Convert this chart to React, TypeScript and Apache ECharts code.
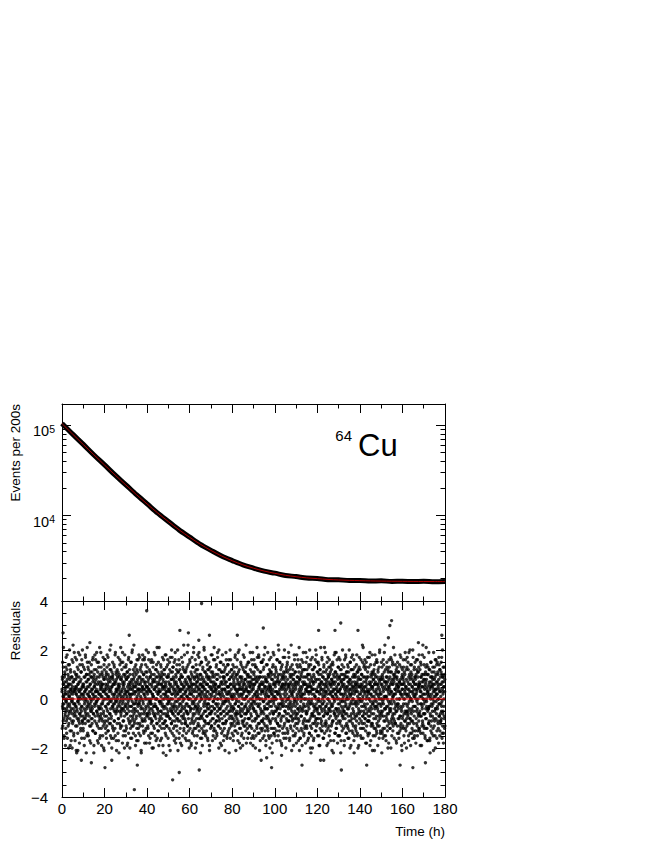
import React, { useEffect, useRef } from "react";
import * as echarts from "echarts";

// ---- Data ----
const timeTickLabels = [0, 20, 40, 60, 80, 100, 120, 140, 160, 180];

// Fit curve of counts (events per 200 s) vs time (h)
const fitTimes = [0, 5, 10, 15, 20, 25, 30, 35, 40, 45, 50, 55, 60, 65, 70, 75, 80, 85, 90, 95, 100, 105, 110, 115, 120, 125, 130, 135, 140, 145, 150, 155, 160, 165, 170, 175, 180];
const fitCounts = [104850, 80250, 61530, 47280, 36430, 28170, 21890, 17100, 13460, 10690, 8580, 6970, 5750, 4820, 4110, 3570, 3160, 2850, 2610, 2430, 2290, 2180, 2100, 2040, 2000, 1960, 1935, 1915, 1900, 1888, 1879, 1872, 1867, 1863, 1860, 1857, 1855];
// Measured counts (dense band of data points)
const measuredCounts = [105300, 80100, 61700, 47100, 36500, 28100, 21950, 17050, 13500, 10650, 8600, 6950, 5770, 4800, 4120, 3560, 3170, 2840, 2620, 2420, 2300, 2170, 2110, 2030, 2010, 1950, 1945, 1905, 1910, 1880, 1890, 1865, 1875, 1855, 1868, 1850, 1860];

const logMajorTicks = [10000, 100000];
const logMinorTicks = [2000, 3000, 4000, 5000, 6000, 7000, 8000, 9000, 20000, 30000, 40000, 50000, 60000, 70000, 80000, 90000];

// Residuals: two interleaved runs, each sampled every 0.1 h
const residualStep = 0.1;
const residualOffsetB = 0.05;
const residualsA = [
0.3,-1.2,0.8,1.5,-0.4,0.1,-0.9,2.1,0.6,-0.2,-1.6,0.9,0.0,1.1,-0.7,0.4,-1.9,0.2,1.3,-0.5,
-0.1,0.7,-1.4,0.5,1.8,-0.8,0.2,-0.3,1.0,-1.1,0.6,-2.0,0.9,0.1,-0.6,1.4,-0.2,0.8,-1.3,0.3,
1.2,-0.5,0.0,-1.7,0.4,0.9,-0.9,1.6,-0.1,0.5,-1.0,0.2,2.2,-0.4,0.7,-1.5,0.3,-0.7,1.1,-0.2,
-0.6,0.4,1.7,-0.3,-1.1,0.8,0.2,-2.1,0.5,1.0,-0.4,-0.8,1.3,0.1,-1.4,0.6,-0.1,1.9,-0.9,0.0,
0.9,-0.2,-1.8,0.3,1.4,-0.6,0.7,0.0,-1.2,1.1,0.4,-0.5,-0.3,1.6,-0.9,0.2,2.0,-1.0,0.5,-0.7,
-1.3,0.6,0.1,-0.4,0.9,-1.6,1.2,-0.1,0.3,-0.8,1.8,0.0,-0.6,0.7,-2.2,0.4,1.0,-0.3,0.2,1.5,
0.5,-0.9,1.3,-0.2,-1.5,0.8,0.1,1.0,-0.7,0.3,-1.1,2.3,-0.4,0.6,0.0,-1.8,0.9,-0.1,1.4,-0.5,
-0.3,1.1,-0.8,0.4,0.2,-1.3,1.7,-0.6,0.0,0.9,-1.9,0.5,1.2,-0.2,-0.9,0.7,-1.4,0.3,1.6,0.1,
0.8,-0.1,-1.0,1.9,-0.5,0.3,0.6,-1.7,1.1,-0.3,0.0,-0.7,1.5,0.2,-1.2,0.9,-0.4,2.1,-0.8,0.4,
-1.5,0.2,0.7,-0.6,1.3,-0.2,-1.9,0.5,0.1,1.0,-0.9,0.6,-0.1,1.7,-1.1,0.3,-0.5,0.8,-2.1,1.2,
0.4,-0.7,1.6,0.0,-1.2,0.9,-0.3,0.5,1.1,-1.6,0.2,-0.4,1.8,-0.9,0.6,0.1,-1.3,1.0,-0.2,0.7,
-0.8,1.4,0.3,-1.0,0.0,2.0,-0.6,0.8,-1.5,0.4,1.2,-0.1,-0.7,0.9,-2.0,0.5,0.2,-1.1,1.5,-0.3,
1.0,-0.4,-1.6,0.6,0.2,-0.9,1.3,-0.2,0.7,-1.2,0.0,1.9,-0.5,0.3,1.1,-1.7,0.8,-0.1,0.4,-1.0,
0.1,0.9,-0.3,-1.4,1.7,0.5,-0.8,0.2,-2.2,1.0,0.6,-0.5,1.4,-0.1,0.3,-1.1,2.1,-0.6,0.0,0.8,
-0.5,1.2,0.4,-0.2,-1.8,0.7,1.5,-0.9,0.1,-0.4,1.0,-1.3,0.6,0.2,-0.7,1.8,-0.3,0.9,-1.5,0.3,
1.3,-1.1,0.0,0.8,-0.6,0.3,-1.9,1.1,0.5,-0.2,0.9,-0.8,1.6,-1.4,0.4,0.0,-0.5,1.2,0.2,-2.0,
0.6,0.1,-1.2,1.5,-0.3,-0.9,0.7,0.2,-1.6,1.9,-0.1,0.4,-0.7,1.0,-1.1,0.5,0.8,-0.4,2.2,-0.2,
-0.9,0.5,1.1,-0.5,0.3,-1.5,0.0,1.4,-0.8,0.6,-0.2,-1.7,1.2,0.1,0.7,-1.0,0.4,-0.3,1.6,-1.2,
0.2,-1.4,0.9,0.4,-0.1,1.7,-0.7,-1.1,0.6,0.0,1.3,-0.4,-2.1,0.8,-0.6,1.1,0.3,-0.9,0.5,1.8,
-0.4,0.8,-0.2,-1.3,1.0,0.2,-0.6,1.6,-1.8,0.4,0.1,-0.9,0.7,1.4,-0.3,-1.2,2.0,0.5,-0.7,0.0,
1.1,-0.6,0.3,-1.1,0.7,-0.2,1.9,-1.5,0.4,0.0,-0.8,1.2,0.6,-0.4,-1.6,0.9,-0.1,0.3,1.5,-1.0,
-0.2,1.6,-0.9,0.5,0.2,-1.4,0.8,-0.5,1.3,-2.0,0.1,0.7,-0.3,1.0,-1.2,0.4,-0.7,1.8,0.0,-0.6,
0.7,-0.3,-1.7,1.2,0.0,0.5,-1.0,2.1,-0.4,0.9,-1.3,0.2,-0.6,1.5,0.3,-1.9,0.6,-0.1,1.0,-0.8,
-1.1,0.3,0.9,-0.7,1.4,-0.1,-0.5,0.6,-1.6,1.1,0.4,-0.2,1.7,-1.0,0.0,0.8,-2.2,0.5,-0.3,1.2,
0.5,-1.2,1.0,0.2,-0.6,1.8,-0.9,0.1,0.7,-1.5,0.3,1.3,-0.4,-1.1,0.9,0.0,-0.7,1.6,-0.2,0.4,
-0.7,0.9,-0.1,-1.9,0.6,0.3,1.2,-0.8,0.0,1.7,-1.3,0.5,-0.2,0.8,-1.0,2.0,-0.5,0.2,-1.4,1.1,
0.0,1.3,-0.6,0.4,-1.2,0.8,-0.3,1.5,-1.7,0.2,0.6,-0.9,1.9,-0.1,-0.5,1.0,-1.6,0.7,0.3,-1.1,
1.4,-0.4,0.2,-0.8,1.1,-2.1,0.5,0.0,-0.6,1.6,0.3,-1.4,0.8,-0.2,1.2,-0.9,0.4,-1.8,0.9,0.1,
-0.5,0.6,1.7,-1.0,0.1,-0.3,0.9,-1.5,1.3,0.4,-0.7,0.0,2.2,-1.2,0.5,-0.4,1.1,-0.8,0.2,-1.6,
0.8,-1.0,0.3,1.2,-0.5,-1.7,0.7,0.1,-0.2,1.9,-1.1,0.6,-0.6,1.4,0.0,-1.3,0.9,0.4,-2.0,0.5,
-0.3,1.5,-1.2,0.0,0.8,-0.4,1.1,-1.9,0.6,0.2,-0.8,1.7,-0.1,-1.4,0.9,0.3,-0.6,1.3,-1.0,2.1,
0.6,-0.2,-1.5,0.9,0.3,-0.9,1.6,-0.3,0.0,-1.2,1.2,0.5,-1.8,0.7,-0.5,1.0,0.1,-1.1,1.8,-0.4,
-1.0,0.4,0.8,-0.6,1.9,-1.3,0.2,-0.1,1.4,-0.8,0.6,-2.2,1.0,0.3,-0.7,0.0,1.5,-1.6,0.5,0.9,
0.2,-0.8,1.3,-1.4,0.5,0.7,-0.3,-1.1,2.0,0.1,-0.5,1.1,-0.9,0.4,1.7,-1.5,0.0,0.6,-0.2,-1.3,
1.0,0.3,-0.7,0.6,-1.6,1.2,-0.2,0.8,-1.0,0.0,1.5,-0.4,0.9,-1.9,0.2,-0.6,1.3,0.5,-1.2,0.7,
-0.6,1.8,0.1,-1.1,0.4,-0.5,0.9,-1.7,1.1,0.3,-0.1,-0.8,1.6,-1.3,0.7,2.1,-0.4,0.0,-1.0,0.5,
0.4,-1.3,0.6,1.0,-0.2,-0.9,1.4,0.2,-1.5,0.8,-0.3,1.9,-0.7,0.0,-1.1,0.5,1.2,-2.0,0.3,-0.4,
-0.9,0.2,1.2,-0.4,-1.8,0.6,0.0,1.5,-0.6,1.1,-1.4,0.3,0.7,-0.2,1.8,-1.0,0.4,-0.5,0.9,-1.7,
0.1,1.1,-0.5,-1.2,0.9,0.4,-2.1,0.7,-0.1,1.3,0.0,-0.9,1.6,-0.6,0.2,-1.5,1.0,0.5,-0.3,1.4,
-1.4,0.5,0.3,-0.1,1.6,-0.8,0.8,-1.2,0.2,-0.5,2.0,-1.6,0.6,0.9,-0.3,0.1,-1.1,1.2,-0.7,0.0,
0.9,-0.5,-1.0,1.4,0.0,-1.7,0.5,0.8,-0.4,1.1,-0.9,0.2,-1.3,1.7,0.4,-0.2,0.6,-2.1,1.0,-0.6,
-0.1,1.3,-0.8,0.3,1.0,-0.6,-1.4,0.7,1.9,-0.3,0.4,-1.0,0.1,1.2,-1.8,0.6,-0.5,0.9,0.2,-1.2,
1.5,-0.7,0.4,-1.5,0.2,0.8,-0.2,-0.9,1.3,-1.9,0.5,0.0,1.8,-0.4,0.7,-1.1,0.3,-0.6,1.1,0.6,
-0.8,0.0,1.1,-0.3,-1.3,2.2,-0.6,0.4,0.1,-1.0,1.4,-0.5,0.7,-1.6,0.3,1.0,-0.1,-0.8,1.5,-1.4,
0.3,-1.1,0.7,0.5,-0.4,1.2,-1.8,0.9,-0.2,0.6,-0.7,1.6,-1.2,0.0,0.8,-0.3,1.9,-1.5,0.1,0.4,
-0.4,0.8,-1.6,1.1,0.6,-0.1,-0.9,1.4,0.2,-2.0,0.9,-0.5,0.3,1.3,-0.8,0.0,-1.2,0.7,1.7,-0.2,
1.2,-0.3,0.2,-1.0,1.8,-0.7,0.5,-1.4,0.0,0.9,-0.2,1.1,-1.7,0.4,0.6,-0.6,1.5,-0.9,0.3,-1.3,
0.0,0.6,-1.2,0.9,-0.5,0.3,1.6,-0.8,-0.1,1.3,-1.5,0.7,0.2,-0.4,2.1,-1.1,0.5,0.1,-1.9,0.8,
-0.7,1.4,0.4,-0.2,-1.1,0.7,-0.4,1.9,-1.3,0.1,0.5,-0.8,1.0,-0.1,-1.6,1.2,0.3,-0.6,0.9,-1.0,
0.5,-0.9,1.7,-1.5,0.2,-0.3,1.0,0.0,-2.2,0.8,0.4,-1.2,1.4,-0.6,0.1,-0.2,1.8,-1.4,0.6,0.3,
-1.2,0.1,0.6,1.3,-0.8,0.0,-0.5,1.1,0.7,-1.7,0.3,1.6,-0.4,-1.0,0.9,0.2,-1.5,1.0,-0.3,2.0,
0.7,-0.6,-1.3,0.4,1.5,-1.1,0.2,-0.2,1.2,-0.9,0.0,-1.8,0.8,0.5,-0.7,1.4,-0.1,0.6,-1.4,0.9,
-0.3,1.0,0.2,-1.6,0.8,0.5,-1.0,1.7,-0.5,0.1,1.1,-0.3,-2.0,0.6,1.3,-0.8,0.4,-1.2,0.0,1.5,
1.1,-1.4,0.5,0.0,-0.6,1.9,-0.2,-0.9,0.6,1.2,-1.6,0.3,0.9,-0.1,-1.1,0.7,-0.4,2.2,-0.7,0.2,
-0.5,0.3,1.4,-0.9,0.1,-1.3,0.8,0.4,-1.9,1.0,-0.2,0.6,-0.8,1.6,0.0,-1.5,1.1,-0.3,0.5,-1.0,
0.6,-0.1,-0.8,1.8,-1.2,0.2,0.9,-0.6,1.3,-0.4,0.0,-1.7,0.7,1.1,-0.9,0.4,-2.1,0.8,1.4,-0.3,
-1.6,0.9,0.3,-0.4,1.0,-0.7,1.6,0.1,-1.3,0.5,-0.5,1.2,0.2,-1.0,1.9,-0.2,0.6,-1.4,0.0,0.7,
0.2,1.2,-1.1,0.6,-0.3,-1.8,0.4,1.5,-0.6,0.0,0.9,-1.2,1.7,-0.5,0.3,-0.9,1.0,0.5,-1.6,-0.1,
1.3,-0.4,0.0,-1.4,2.0,0.3,-0.8,0.7,-1.1,1.4,-0.2,0.5,-1.5,0.9,-0.6,0.2,1.2,-2.0,0.4,-0.7,
-0.2,0.7,-1.7,1.0,0.4,-0.5,1.3,-1.0,0.1,-0.3,1.6,-0.9,0.8,0.0,-1.3,1.8,-0.4,0.3,-0.8,1.1,
0.8,-1.5,0.3,-0.1,1.5,-0.8,0.0,1.0,-1.9,0.6,0.2,-0.6,1.2,-1.2,0.5,-0.3,2.1,-1.0,0.7,-0.4,
-0.9,0.4,1.6,-1.3,0.0,0.9,-0.2,-1.6,1.1,0.3,-0.7,1.4,-0.1,0.6,-1.4,0.8,0.1,-0.5,1.9,-1.1,
0.3,-0.3,-1.0,0.7,1.2,-1.9,0.5,0.2,-0.6,1.7,-1.2,0.0,0.9,-0.4,1.3,-0.8,-1.5,0.6,0.2,1.0,
-1.3,1.1,0.6,-0.5,-0.2,1.4,-1.1,0.8,0.3,-2.1,0.7,-0.3,1.5,0.1,-0.9,0.4,1.0,-1.7,0.0,-0.6,
0.6,0.0,-1.4,1.9,-0.7,0.2,1.1,-0.4,-1.2,0.9,0.4,-1.0,0.1,1.6,-0.5,-1.8,0.8,0.3,-0.2,1.3,
-0.4,1.7,-0.6,0.0,0.9,-1.5,0.4,1.2,-0.9,0.2,-2.2,0.7,1.0,-0.3,0.5,-1.1,1.4,-0.7,0.6,-0.1,
1.0,-0.8,0.2,-1.2,0.5,0.8,-0.5,-1.7,1.6,-0.1,0.9,-0.6,0.3,1.8,-1.4,0.0,-0.3,1.1,-1.0,0.4,
0.1,0.5,-1.1,0.9,-1.6,1.3,0.0,-0.4,0.7,-0.9,2.0,-1.3,0.4,-0.2,0.8,1.5,-0.7,0.2,-1.9,0.6,
-0.6,1.2,0.7,-0.2,0.3,-1.0,1.8,-1.4,0.0,0.5,-0.5,1.0,-1.7,0.9,0.2,-0.8,1.3,-0.1,0.6,-1.2,
0.9,-0.2,-1.3,0.4,1.4,-0.7,-0.1,1.1,-1.5,0.6,0.3,-2.0,0.8,1.2,-0.4,0.0,-1.0,1.7,-0.6,0.5,
-0.1,0.8,0.0,-1.5,0.6,1.6,-0.9,0.3,-0.3,1.0,-1.2,0.5,2.2,-0.7,0.1,-1.6,0.9,0.4,-0.5,1.3,
1.4,-1.0,0.5,0.2,-0.8,-0.3,1.2,-1.8,0.7,0.0,1.5,-0.6,-1.1,0.9,0.3,-0.2,1.7,-1.4,0.2,-0.9,
-0.7,0.3,1.3,-0.9,0.0,-1.4,0.6,1.9,-0.5,0.4,-0.1,-1.7,1.0,0.2,-1.0,0.7,-0.4,1.1,0.5,-2.1,
0.5,-1.1,-0.2,1.1,0.8,-0.6,0.1,-1.2,1.4,-0.3,0.6,1.8,-1.5,0.0,0.9,-0.8,0.3,-0.1,-1.3,1.6,
-1.0,0.6,0.9,-0.4,-1.9,1.2,-0.2,0.5,0.1,-0.7,1.3,-1.1,0.7,2.0,-0.6,0.2,-1.4,0.8,0.0,-0.3,
0.2,1.5,-0.7,0.0,0.6,-1.3,1.0,-0.5,-1.6,0.8,0.4,-0.2,1.4,-0.9,0.1,1.9,-1.2,0.5,-0.4,0.7,
1.2,-0.4,0.4,-1.7,0.9,0.1,-0.8,1.3,0.0,-1.1,0.7,-0.3,-2.0,1.1,0.5,-0.6,0.2,1.6,-1.0,-0.2,
-0.5,0.9,-1.2,0.6,-0.1,1.7,-0.4,-0.9,1.1,0.3,-1.5,0.8,0.0,-0.7,1.5,-1.3,0.6,0.1,2.1,-0.8,
0.7,-1.6,0.2,1.0,-0.6,0.4,1.4,-1.0,-0.2,0.9,-0.5,1.2,-1.8,0.3,0.0,0.8,-1.1,1.5,-0.3,0.4,
-0.2,0.5,1.1,-1.4,0.3,-0.8,0.7,0.0,-1.3,1.8,-0.7,0.2,0.6,-1.0,1.3,-0.4,-1.9,0.9,0.1,1.0,
0.4,-0.7,-1.1,0.8,1.6,-0.2,0.0,-1.5,0.6,1.1,-0.9,0.3,-0.5,1.9,-1.2,0.5,0.2,-0.6,1.2,-2.0,
-0.8,1.3,0.1,-0.3,-1.0,0.7,1.5,-0.6,0.2,-1.7,0.9,0.4,-0.1,1.0,-0.8,2.0,-1.4,0.6,0.0,-0.5,
1.1,0.0,-0.9,1.4,-0.4,-1.2,0.5,0.8,-1.6,0.3,1.7,-0.3,0.7,-1.0,0.1,-0.7,1.3,-1.5,0.9,0.2,
-0.3,0.9,0.6,-1.8,1.0,0.2,-0.5,1.2,-0.1,-1.1,0.4,1.6,-1.3,0.0,-0.6,1.1,0.5,-0.9,1.8,-1.2,
0.6,-1.3,0.4,0.1,-0.7,1.5,-1.4,0.3,0.9,-0.2,-1.9,0.7,1.0,-0.4,0.5,-1.0,2.2,0.0,-0.6,0.8,
-1.1,0.2,1.7,-0.6,0.4,-0.1,-1.5,1.0,0.6,-0.8,1.3,-1.2,0.0,0.8,-0.3,1.4,-1.7,0.5,0.2,-0.4,
0.3,1.0,-0.4,-1.0,1.9,-0.9,0.2,-0.3,1.2,-1.6,0.5,0.1,-0.7,1.5,-1.1,0.7,-0.2,0.9,-1.4,0.6,
0.9,-0.5,0.0,1.3,-1.2,0.6,-2.1,0.4,-0.1,1.1,0.8,-0.9,0.3,-1.5,1.6,-0.4,0.1,-0.8,1.0,0.2,
-0.6,1.4,-1.3,0.2,0.7,-0.4,1.1,-1.0,0.5,0.0,-1.8,1.7,-0.2,0.4,-0.7,1.2,-1.3,0.6,0.3,-0.9,
0.1,-0.2,1.5,-0.8,-0.3,1.0,-1.6,0.7,2.0,-1.1,0.3,-0.5,0.9,-1.4,0.5,0.0,1.3,-0.7,-1.2,0.8
];
const residualsB = [
0.4,0.9,-0.3,-1.1,-0.2,0.6,1.3,0.1,-0.8,-1.5,-0.4,0.2,0.7,1.0,-0.6,0.3,0.5,-1.2,-0.1,1.7,
-0.9,-0.4,0.0,1.2,0.8,-1.6,-0.7,-0.2,0.5,1.4,0.3,-0.5,-1.0,0.6,0.1,2.0,-0.3,-0.8,-1.9,0.4,
1.1,0.2,0.6,-0.4,-1.3,-0.1,0.9,-2.0,-0.6,0.3,0.0,1.5,0.7,-0.9,-0.2,-1.4,0.8,1.9,0.4,-0.5,
-0.2,-1.7,0.3,0.5,1.0,-0.7,-0.3,0.2,1.6,0.9,-1.1,-0.5,0.4,-0.1,-2.1,0.6,1.2,0.0,-0.8,0.3,
0.7,-0.6,-1.0,1.8,0.4,0.1,-0.4,-1.3,-0.7,0.8,1.1,0.2,-1.6,-0.3,0.5,1.4,-0.9,0.0,0.6,-1.2,
0.2,1.3,0.5,-0.8,-1.9,-0.2,0.3,0.9,-0.5,-1.0,1.7,0.4,0.0,-0.7,1.0,-0.4,-1.5,0.7,2.1,-0.1,
-1.4,-0.6,0.8,0.2,1.2,-0.3,-0.9,0.5,1.5,0.1,-1.7,-0.2,0.6,1.1,-0.5,-1.1,0.3,-0.8,0.9,0.4,
0.0,-1.0,-0.4,1.6,0.7,-1.3,0.2,0.8,-0.6,-2.2,0.1,1.0,0.5,-0.3,1.8,0.6,-0.7,-1.4,0.3,-0.2,
1.2,0.4,-0.5,-0.1,0.9,1.5,-1.1,-0.6,0.3,0.0,-1.8,0.7,1.3,-0.4,-0.9,0.2,0.6,-1.6,1.0,-0.3,
-0.7,0.5,1.9,0.1,-1.2,-0.4,0.4,-0.8,1.1,0.6,-0.2,-1.5,0.9,0.3,-0.6,-2.0,0.0,1.4,0.8,-1.0,
0.3,1.6,-0.9,-0.3,0.6,0.2,-1.4,1.0,0.4,-0.7,-1.1,1.3,0.0,0.8,-0.5,-0.2,1.7,-1.3,0.5,0.1,
-1.8,0.4,0.9,-0.6,-0.1,1.2,0.7,-1.0,-0.4,2.2,0.3,-0.8,-1.6,0.5,1.1,0.0,-0.3,0.9,-1.2,0.6,
0.8,-0.2,-1.3,0.1,1.4,-0.5,-0.9,0.6,0.2,1.8,-1.5,-0.1,0.7,-0.6,0.4,1.0,-2.1,-0.4,0.3,1.2,
-0.5,0.0,0.6,1.1,-0.8,-1.7,0.4,-0.2,0.9,0.5,-1.0,1.6,-0.3,0.2,-1.2,0.8,0.1,-0.7,1.5,-0.4,
0.9,-1.1,0.3,-0.4,1.9,0.6,-0.1,-1.5,0.5,-0.9,0.0,1.3,0.7,-2.0,-0.5,0.4,1.0,-0.2,-1.3,0.2,
-0.3,1.4,0.8,-1.2,-0.6,0.1,1.1,-0.4,-1.8,0.3,0.9,-0.1,0.6,1.7,-0.9,-0.3,0.2,-1.0,0.7,1.0,
0.5,-0.7,-1.6,0.4,0.0,1.5,-0.3,0.8,-1.1,-0.5,2.0,0.2,-0.8,0.6,1.2,-1.4,-0.2,0.3,-0.6,0.9,
-1.0,0.2,1.3,0.7,-0.4,-1.9,0.5,-0.1,1.0,0.3,-0.7,-1.2,1.6,0.0,-0.5,0.8,1.1,-1.7,0.4,-0.2,
0.6,1.8,-0.6,-0.2,0.3,-1.0,0.9,1.2,-1.5,0.1,-0.3,0.7,-2.2,0.4,1.4,-0.8,0.0,0.5,-1.1,1.6,
-0.1,-0.9,0.4,1.0,-1.4,0.7,0.2,-0.5,1.7,-0.8,0.6,0.0,-1.3,1.1,-0.4,0.3,-1.8,0.9,0.5,-0.6,
1.3,0.5,0.2,-0.7,-1.2,-0.3,0.8,1.6,0.4,-0.5,-0.1,-1.8,-0.6,0.9,0.3,1.1,-0.2,-1.4,-0.8,0.0,
0.6,1.0,-0.4,-2.0,-0.9,0.2,0.7,0.1,1.5,-0.6,-1.1,-0.3,0.4,1.9,0.8,-0.7,-0.2,-1.5,0.5,1.2,
-0.3,-0.8,0.9,0.3,1.4,0.0,-1.0,-1.6,-0.4,0.6,1.1,0.2,-0.5,-1.3,0.7,0.4,2.1,-0.9,-0.1,0.3,
0.8,-0.2,-1.7,-0.5,0.1,1.3,0.6,0.9,-1.2,-0.8,-0.3,0.5,1.0,-0.6,-1.9,0.2,0.7,1.6,-0.4,-1.0,
0.0,0.4,1.2,-0.9,-0.3,-1.4,0.6,0.2,1.8,0.5,-0.7,-1.1,0.3,0.9,-0.2,-0.6,1.4,0.1,-1.6,-0.5,
1.0,0.7,-0.1,-1.2,0.4,1.5,0.3,-0.8,-2.1,-0.4,0.6,1.1,0.0,-0.5,-1.0,0.8,0.2,1.7,-0.3,-0.9,
-0.6,0.5,1.3,0.9,-0.4,-1.5,-0.2,0.3,0.7,-1.1,-0.7,1.6,0.4,0.1,-1.8,-0.3,0.9,1.2,0.6,-0.8,
-1.3,-0.1,0.5,2.0,0.2,-0.6,-0.9,1.1,0.4,-0.3,-1.6,0.8,1.4,0.0,-0.5,-1.2,0.3,0.7,-0.2,1.0,
0.4,-0.7,-1.9,-0.4,0.9,0.6,1.5,-0.1,-0.8,0.2,1.2,0.5,-1.3,-0.6,0.0,1.8,0.7,-1.0,-0.3,0.3,
-0.9,1.1,0.6,-0.2,-1.4,-0.5,0.4,1.3,0.1,-1.1,-0.6,0.9,2.2,-0.3,-0.8,0.5,0.0,-1.7,0.2,0.8,
1.6,0.3,-0.5,-1.0,0.7,0.2,-0.4,-1.8,0.5,1.0,0.4,-0.9,-0.2,1.3,0.6,-1.3,-0.7,0.1,1.9,-0.4,
-0.1,-1.2,0.8,0.4,1.1,-0.6,-2.0,-0.3,0.6,0.0,1.4,0.9,-0.8,-0.4,0.3,-1.5,0.7,1.2,-0.2,0.5,
0.9,-0.3,-0.8,1.7,0.2,-1.1,-0.5,0.4,1.0,0.6,-1.6,0.1,-0.4,0.8,1.5,-0.7,-1.2,0.0,0.6,-1.9,
0.3,1.2,0.5,-0.6,-1.3,0.8,-0.2,2.1,0.4,-0.9,-0.1,-1.4,0.7,1.1,0.2,-0.5,-1.0,1.6,0.9,-0.3,
-0.7,0.1,1.4,0.6,-0.4,-1.7,0.3,0.9,-0.2,-1.0,1.2,0.5,-0.6,-2.1,0.0,0.8,1.3,-0.3,-0.9,0.4,
1.1,-0.5,-1.1,0.2,0.7,1.8,-0.8,-0.3,0.5,1.0,-1.5,-0.1,0.6,0.3,-1.2,0.9,-0.4,0.1,1.6,-0.6,
-1.6,0.6,0.3,-0.2,1.3,0.4,-0.9,-1.4,0.8,0.0,-0.5,1.7,1.0,-0.7,-0.2,0.5,-1.1,2.0,0.2,-0.8,
0.5,-0.4,0.9,1.5,-1.2,-0.6,0.1,0.7,-0.3,-1.9,0.4,1.1,-0.8,0.2,0.6,-1.3,-0.1,0.9,1.4,-1.0,
-0.2,0.8,-1.5,-0.7,0.4,1.2,0.6,-0.1,-1.0,0.3,1.9,-0.4,-0.9,0.7,0.0,-1.6,1.0,0.5,-0.6,0.2,
1.4,-1.3,0.0,0.5,-0.5,-2.2,0.8,1.1,0.3,-0.7,-0.2,0.6,1.6,-1.0,-0.4,0.4,1.2,-0.8,0.1,-1.4,
0.2,0.6,1.0,-0.3,-0.8,-1.5,-0.4,0.7,1.3,0.1,0.5,-1.1,-0.6,-0.2,1.8,0.9,-0.7,-1.3,0.4,0.0,
-0.5,-1.0,0.3,1.6,0.8,0.2,-1.7,-0.9,0.6,1.1,-0.3,-0.1,2.0,0.4,-1.2,-0.6,0.5,0.9,-2.0,-0.4,
0.7,1.4,-0.2,-0.7,0.1,0.9,-1.4,-0.5,0.4,-1.0,0.2,1.2,0.6,-0.9,-1.6,0.3,1.7,0.0,-0.3,0.8,
-1.1,0.4,0.8,1.3,-0.6,-0.2,-1.8,0.5,0.1,1.0,-0.4,-1.2,0.9,0.3,1.5,-0.8,-0.5,0.6,-1.4,0.2,
0.9,-0.8,-0.3,0.5,1.9,0.0,-1.1,-0.6,0.7,0.3,-1.6,1.1,0.4,-0.2,-0.9,1.4,0.6,-1.9,-0.1,0.5,
-0.4,1.0,1.6,-0.5,-1.3,0.2,0.6,-0.8,-0.2,1.3,0.8,-1.5,0.1,0.7,-0.6,-1.1,2.1,0.3,-0.7,0.9,
0.1,-1.4,0.4,0.8,-0.3,1.7,0.5,-1.0,-2.1,0.6,0.0,0.9,-0.4,-1.2,1.1,0.2,-0.5,1.5,0.7,-0.9,
1.5,0.3,-0.9,-1.6,0.6,-0.1,1.2,0.4,-0.6,-1.0,1.8,-0.3,0.5,0.9,-1.3,-0.4,0.0,0.8,-1.7,0.3,
-0.8,0.7,0.2,-0.4,1.4,-1.2,-0.7,0.9,1.0,-0.2,-1.5,0.4,0.1,-0.9,1.6,0.6,-0.3,-2.0,0.5,1.1,
0.4,-0.1,-1.2,1.1,0.3,0.8,-0.5,-1.8,0.2,1.3,-0.8,0.6,1.9,-0.6,-0.1,-1.4,0.7,0.0,1.0,-0.5,
-1.5,0.9,0.5,-0.3,-0.9,1.2,0.3,0.0,-1.3,0.7,1.6,-0.4,-1.0,0.2,0.8,-0.7,2.2,-0.2,-1.1,0.6,
0.3,-0.6,1.5,0.7,-1.7,-0.4,0.1,1.0,-0.2,-0.8,0.5,1.3,-1.9,0.4,-0.3,0.9,-1.2,0.6,0.0,1.7,
-0.2,1.1,-0.7,-1.1,0.4,2.0,0.6,-0.5,-1.4,0.3,0.9,-0.1,0.7,-1.6,-0.6,1.2,0.2,-0.9,1.4,-0.3,
0.8,-1.3,0.0,0.6,-0.4,-0.9,1.7,0.5,0.1,-1.7,-0.3,1.0,0.4,-0.7,1.3,-1.2,-0.2,0.9,0.6,-2.1,
1.0,0.2,-0.8,-0.3,1.2,0.5,-1.5,-0.6,0.8,0.3,-0.1,1.8,-1.1,0.0,-0.5,0.7,1.1,-1.4,0.4,-0.7,
-0.6,-1.8,0.7,1.4,0.1,-0.2,0.9,-1.0,-0.4,1.6,0.6,-0.8,0.3,-1.3,2.1,-0.5,0.2,0.8,-1.6,0.1,
0.5,1.3,-0.1,-0.7,-1.2,0.4,0.0,1.1,-1.9,0.7,0.2,-0.4,1.5,0.9,-0.9,-0.3,-1.5,0.6,1.2,-0.8,
-1.2,0.0,0.9,0.3,-0.5,1.9,-0.9,0.4,0.6,-1.1,-0.6,1.2,-0.2,0.5,-1.7,1.0,0.3,-0.3,0.8,1.4,
0.2,-0.9,-1.4,0.6,1.0,-0.2,0.5,-2.0,0.3,1.6,-0.7,-0.1,0.8,-1.2,0.4,0.0,1.7,-0.6,-1.0,0.7,
1.2,0.6,-0.3,-1.6,0.2,0.9,-0.7,1.3,-0.4,0.1,-1.3,0.7,2.0,-0.8,-0.2,0.4,-1.1,1.5,0.3,-0.5,
-0.4,-1.0,1.1,0.5,-0.6,0.0,1.4,-1.5,-0.3,0.8,0.3,-1.9,0.6,1.2,-0.1,-0.8,0.4,1.0,-1.3,0.2,
0.7,1.7,-0.5,-0.2,-1.1,0.6,0.1,0.9,-0.7,-1.6,1.3,0.4,-0.4,2.1,0.2,-1.0,-0.6,0.5,1.1,-0.3,
-0.9,0.3,0.6,-1.3,0.8,1.5,-0.2,-0.6,0.0,1.0,-1.8,0.4,0.9,-0.5,-1.1,0.7,1.6,-0.1,-0.4,0.3,
1.3,-0.7,-1.7,0.2,0.5,-0.3,1.2,0.8,-1.0,0.1,0.6,-0.9,-0.2,1.4,0.3,-2.2,0.7,-0.5,0.9,1.8,
-0.1,0.4,-0.6,1.1,-1.4,0.7,0.2,-0.8,1.9,-0.4,-1.2,0.5,1.0,0.0,-0.7,0.3,-1.5,1.3,0.6,-0.9,
0.6,-1.5,0.9,0.3,-0.2,-1.0,1.6,0.4,-0.5,0.8,-0.1,-1.7,1.2,0.2,0.7,-0.6,-1.3,0.0,2.0,-0.4,
-0.7,0.8,0.1,-0.5,1.3,0.6,-1.9,-0.3,0.4,1.0,-0.8,0.2,-1.1,1.7,-0.2,0.5,0.9,-1.4,-0.6,1.1,
0.0,-0.4,1.4,0.7,-1.2,-0.7,0.3,1.1,-1.6,0.6,0.2,-0.3,0.8,-2.0,1.5,0.1,-0.9,0.4,1.2,-0.1,
1.7,0.2,-0.8,-1.3,0.5,0.9,-0.4,0.0,1.2,-1.1,0.4,1.6,-0.6,-0.2,0.7,-1.5,0.3,-0.7,1.0,0.5,
-1.1,0.6,0.3,-0.3,-0.9,1.8,0.7,-0.6,-1.4,0.1,1.1,-0.2,0.5,0.9,-1.9,-0.5,1.3,0.2,-0.8,0.0,
0.5,1.2,-1.2,0.2,0.8,-0.5,-1.6,1.0,0.4,-0.1,0.6,-1.0,1.5,-0.7,0.0,2.1,-0.3,-1.2,0.7,0.3,
-0.6,-0.2,0.9,1.6,-0.8,0.3,-1.3,0.5,-0.4,1.3,0.8,-1.8,0.1,0.6,-0.9,0.4,1.1,-0.5,-1.5,0.9,
0.3,-0.9,0.0,-0.4,1.7,0.7,-0.7,-1.9,0.6,0.2,1.4,-0.3,-1.1,0.9,0.5,-0.6,0.1,1.8,-1.0,-0.2,
1.0,0.4,-1.5,0.8,-0.1,-0.8,1.2,0.3,-2.1,0.6,-0.4,1.0,0.7,-1.2,-0.3,1.5,0.2,-0.7,0.4,-1.4,
-0.3,1.5,0.6,-1.1,0.2,1.1,-0.5,-0.9,0.8,0.0,-1.6,0.4,1.9,-0.2,-0.8,0.3,-1.3,0.9,0.6,-0.5,
0.8,-0.6,-0.2,1.3,-1.4,0.5,0.9,-0.1,-1.2,1.6,0.3,-0.7,0.0,-1.5,1.1,0.7,-0.4,2.2,-0.9,0.1,
-1.5,0.1,0.7,-0.7,0.6,-0.3,1.5,0.9,-0.6,-1.3,0.4,1.2,-0.9,0.3,-0.1,-1.8,0.8,0.5,1.3,-0.4,
0.4,-1.2,1.1,0.2,-0.5,-2.0,0.3,0.7,1.6,-0.8,-0.2,0.6,-1.0,1.4,0.1,-0.6,-1.1,1.0,0.2,0.8,
-0.1,0.9,-0.9,-0.4,1.8,0.4,-1.0,0.2,-0.3,1.1,-1.7,0.6,0.5,-0.5,0.9,1.3,-1.4,-0.2,0.6,-0.8,
1.1,-0.4,0.5,-1.6,0.0,0.7,1.4,-0.7,-1.1,0.3,0.8,-0.3,1.7,-1.2,0.2,-0.5,0.6,-2.1,0.4,1.2,
-0.8,0.6,-0.3,0.9,-1.2,1.3,0.2,-0.6,0.7,-1.8,0.0,1.0,0.4,-0.9,1.6,-0.2,-1.3,0.5,0.8,-0.5,
0.2,-1.1,1.7,-0.5,0.4,-0.7,-0.2,1.2,-1.5,0.6,1.9,-0.4,0.1,-1.0,0.3,0.8,-0.8,1.4,-1.9,0.0,
0.9,0.3,-0.6,-1.4,1.0,0.5,-0.1,-0.9,2.0,0.2,-1.3,0.7,-0.5,0.4,1.2,-1.6,0.6,-0.3,0.1,1.5,
-1.3,0.8,0.4,0.0,-0.8,1.6,-1.0,0.3,0.6,-0.4,-1.5,1.1,0.9,-0.2,-0.7,0.5,1.3,-1.2,0.7,-0.6,
0.6,-0.5,1.2,-1.9,0.3,-0.2,0.9,1.4,-0.7,0.1,0.5,-1.1,-0.3,1.8,-0.9,0.2,-1.4,0.7,0.0,1.0,
-0.2,1.4,-1.2,0.5,0.8,-0.6,-1.6,0.2,1.1,-0.4,0.7,2.1,-0.8,-0.1,0.4,-1.2,1.0,0.3,-0.5,-1.7,
1.3,0.1,-0.4,-1.0,0.6,1.2,-0.3,0.7,-1.7,0.4,-0.6,0.9,0.0,-1.3,1.5,0.5,-0.9,0.2,1.1,-0.3,
-0.7,0.5,0.8,-0.2,-1.5,0.3,1.9,-0.8,0.1,-1.1,1.3,-0.5,0.6,0.9,-2.0,0.4,-0.4,1.6,-0.1,0.7,
0.4,-1.6,0.2,1.5,-0.3,-0.9,0.6,1.0,-1.2,0.0,0.8,-0.7,1.4,-0.2,0.3,-1.5,1.2,-0.6,-1.0,0.9,
-0.9,1.1,0.6,-0.5,1.7,-0.1,-1.4,0.4,0.9,-0.6,0.2,1.3,-1.8,0.7,-0.3,0.5,-0.8,1.0,0.3,-1.1
];

// Isolated residuals: [time (h), residual]
const residualOutliers = [
  [0.5, 2.7], [6.9, -2.2], [9.1, -2.5], [13.8, -2.6], [20.2, -2.8], [23.4, -2.5],
  [31.2, -2.4], [31.6, 2.6], [34.0, -3.7], [35.4, -2.7], [39.8, 3.6], [48.9, -2.3],
  [52.0, -3.3], [55.1, -3.0], [55.4, 2.8], [59.4, 2.7], [64.3, 2.4], [64.5, -2.9],
  [65.6, 3.9], [69.3, 2.6], [82.4, 2.6], [93.6, -2.5], [94.6, 2.9], [96.2, -2.4],
  [98.5, -2.8], [103.2, -2.3], [112.8, -2.7], [117.0, -2.2], [120.6, 2.8], [121.5, -2.5],
  [123.0, -2.5], [128.3, 2.8], [131.0, 3.1], [131.3, -2.9], [137.3, -2.2], [139.1, 2.8],
  [143.2, -2.7], [150.3, -2.2], [153.4, 2.5], [154.1, 3.0], [154.9, 3.2], [158.9, -2.7],
  [164.9, -2.8], [167.5, 2.3], [170.8, -2.6], [173.0, -2.2], [178.5, 2.6]
];

const residualFitTimes = [0, 180];
const residualFitValues = [0, 0];

// ---- Chart ----
const FONT = "'Liberation Sans', Arial, Helvetica, sans-serif";
const BLACK = "#000";

function xAxisDef(gridIndex: number, position: string, showLabel: boolean) {
  return {
    type: "value",
    gridIndex,
    position,
    min: timeTickLabels[0],
    max: timeTickLabels[timeTickLabels.length - 1],
    interval: 20,
    axisLine: { show: true, onZero: false, lineStyle: { color: BLACK, width: 1 } },
    axisTick: { show: true, inside: true, length: 9, lineStyle: { color: BLACK, width: 1 } },
    minorTick: { show: true, splitNumber: 2, length: 4.5, lineStyle: { color: BLACK, width: 1 } },
    splitLine: { show: false },
    axisLabel: { show: showLabel, color: BLACK, fontSize: 15, fontFamily: FONT, margin: 4 },
  };
}

function logAxisDef(position: string, ticks: number[], len: number, showLabel: boolean, showLine: boolean) {
  return {
    type: "log",
    logBase: 10,
    gridIndex: 0,
    position,
    min: 1130,
    max: 173000,
    axisLine: { show: showLine, onZero: false, lineStyle: { color: BLACK, width: 1 } },
    axisTick: { show: true, inside: true, length: len, customValues: ticks, lineStyle: { color: BLACK, width: 1 } },
    minorTick: { show: false },
    splitLine: { show: false },
    axisLabel: showLabel
      ? {
          show: true,
          customValues: logMajorTicks,
          margin: 7,
          padding: [12, 0, 0, 0],
          formatter: (v: number) => `{b|10}{e|${Math.round(Math.log10(v))}}`,
          rich: {
            b: { fontSize: 14.5, lineHeight: 16, color: BLACK, fontFamily: FONT },
            e: { fontSize: 10.5, lineHeight: 8, verticalAlign: "top", color: BLACK, fontFamily: FONT },
          },
        }
      : { show: false },
  };
}

function resAxisDef(position: string, showLabel: boolean) {
  return {
    type: "value",
    gridIndex: 1,
    position,
    min: -4,
    max: 4,
    interval: 2,
    axisLine: { show: true, onZero: false, lineStyle: { color: BLACK, width: 1 } },
    axisTick: { show: true, inside: true, length: 9, lineStyle: { color: BLACK, width: 1 } },
    minorTick: { show: true, splitNumber: 4, length: 4.5, lineStyle: { color: BLACK, width: 1 } },
    splitLine: { show: false },
    axisLabel: {
      show: showLabel,
      color: BLACK,
      fontSize: 15,
      fontFamily: FONT,
      margin: 14,
      formatter: (v: number) => (v < 0 ? "\u2212" + Math.abs(v) : String(v)),
    },
  };
}

function textEl(text: string, x: number, y: number, size: number, align: string, rotation = 0) {
  return {
    type: "text",
    x,
    y,
    rotation,
    style: {
      text,
      fill: BLACK,
      font: `${size}px ${FONT}`,
      fontSize: size,
      fontFamily: FONT,
      align,
      textAlign: align,
      verticalAlign: "middle",
      textVerticalAlign: "middle",
    },
  };
}

function buildOption() {
  const bandData = fitTimes.map((t, i) => [t, measuredCounts[i]]);
  const fitData = fitTimes.map((t, i) => [t, fitCounts[i]]);
  const resData = residualsA
    .map((r, i) => [i * residualStep, r])
    .concat(residualsB.map((r, i) => [i * residualStep + residualOffsetB, r]))
    .concat(residualOutliers);
  const resFit = residualFitTimes.map((t, i) => [t, residualFitValues[i]]);

  return {
    animation: false,
    backgroundColor: "#fff",
    textStyle: { fontFamily: FONT },
    grid: [
      { left: 62, top: 404, width: 383, height: 197, containLabel: false },
      { left: 62, top: 601, width: 383, height: 196, containLabel: false },
    ],
    xAxis: [
      xAxisDef(0, "bottom", false),
      xAxisDef(0, "top", false),
      xAxisDef(1, "bottom", true),
      xAxisDef(1, "top", false),
    ],
    yAxis: [
      logAxisDef("left", logMajorTicks, 9, true, true),
      logAxisDef("left", logMinorTicks, 4.5, false, false),
      logAxisDef("right", logMajorTicks, 9, false, true),
      logAxisDef("right", logMinorTicks, 4.5, false, false),
      resAxisDef("left", true),
      resAxisDef("right", false),
    ],
    series: [
      {
        name: "data",
        type: "line",
        xAxisIndex: 0,
        yAxisIndex: 0,
        data: bandData,
        showSymbol: false,
        smooth: 0.3,
        lineStyle: { color: BLACK, width: 5 },
        z: 2,
      },
      {
        name: "fit",
        type: "line",
        xAxisIndex: 0,
        yAxisIndex: 0,
        data: fitData,
        showSymbol: false,
        smooth: 0.3,
        lineStyle: { color: "#b00000", width: 1 },
        z: 3,
      },
      {
        name: "residuals",
        type: "scatter",
        xAxisIndex: 2,
        yAxisIndex: 4,
        data: resData,
        symbol: "circle",
        symbolSize: 3.4,
        itemStyle: { color: BLACK },
        z: 2,
      },
      {
        name: "residual fit",
        type: "line",
        xAxisIndex: 2,
        yAxisIndex: 4,
        data: resFit,
        showSymbol: false,
        lineStyle: { color: "#ff0000", width: 1.2 },
        z: 3,
      },
    ],
    graphic: [
      textEl("Events per 200s", 15, 404, 13.5, "right", Math.PI / 2),
      textEl("Residuals", 15, 601, 13.5, "right", Math.PI / 2),
      textEl("Time (h)", 445, 831, 13.5, "right"),
      textEl("64", 352, 435.5, 15, "right"),
      textEl("Cu", 358, 445, 31, "left"),
    ],
  };
}

export default function App() {
  const ref = useRef<HTMLDivElement>(null);
  useEffect(() => {
    if (!ref.current) return;
    const chart = echarts.init(ref.current, null, { renderer: "svg" });
    chart.setOption(buildOption() as any);
    return () => chart.dispose();
  }, []);
  return (
    <div
      ref={ref}
      style={{ position: "absolute", left: 0, top: 0, width: 664, height: 860, background: "#fff" }}
    />
  );
}
